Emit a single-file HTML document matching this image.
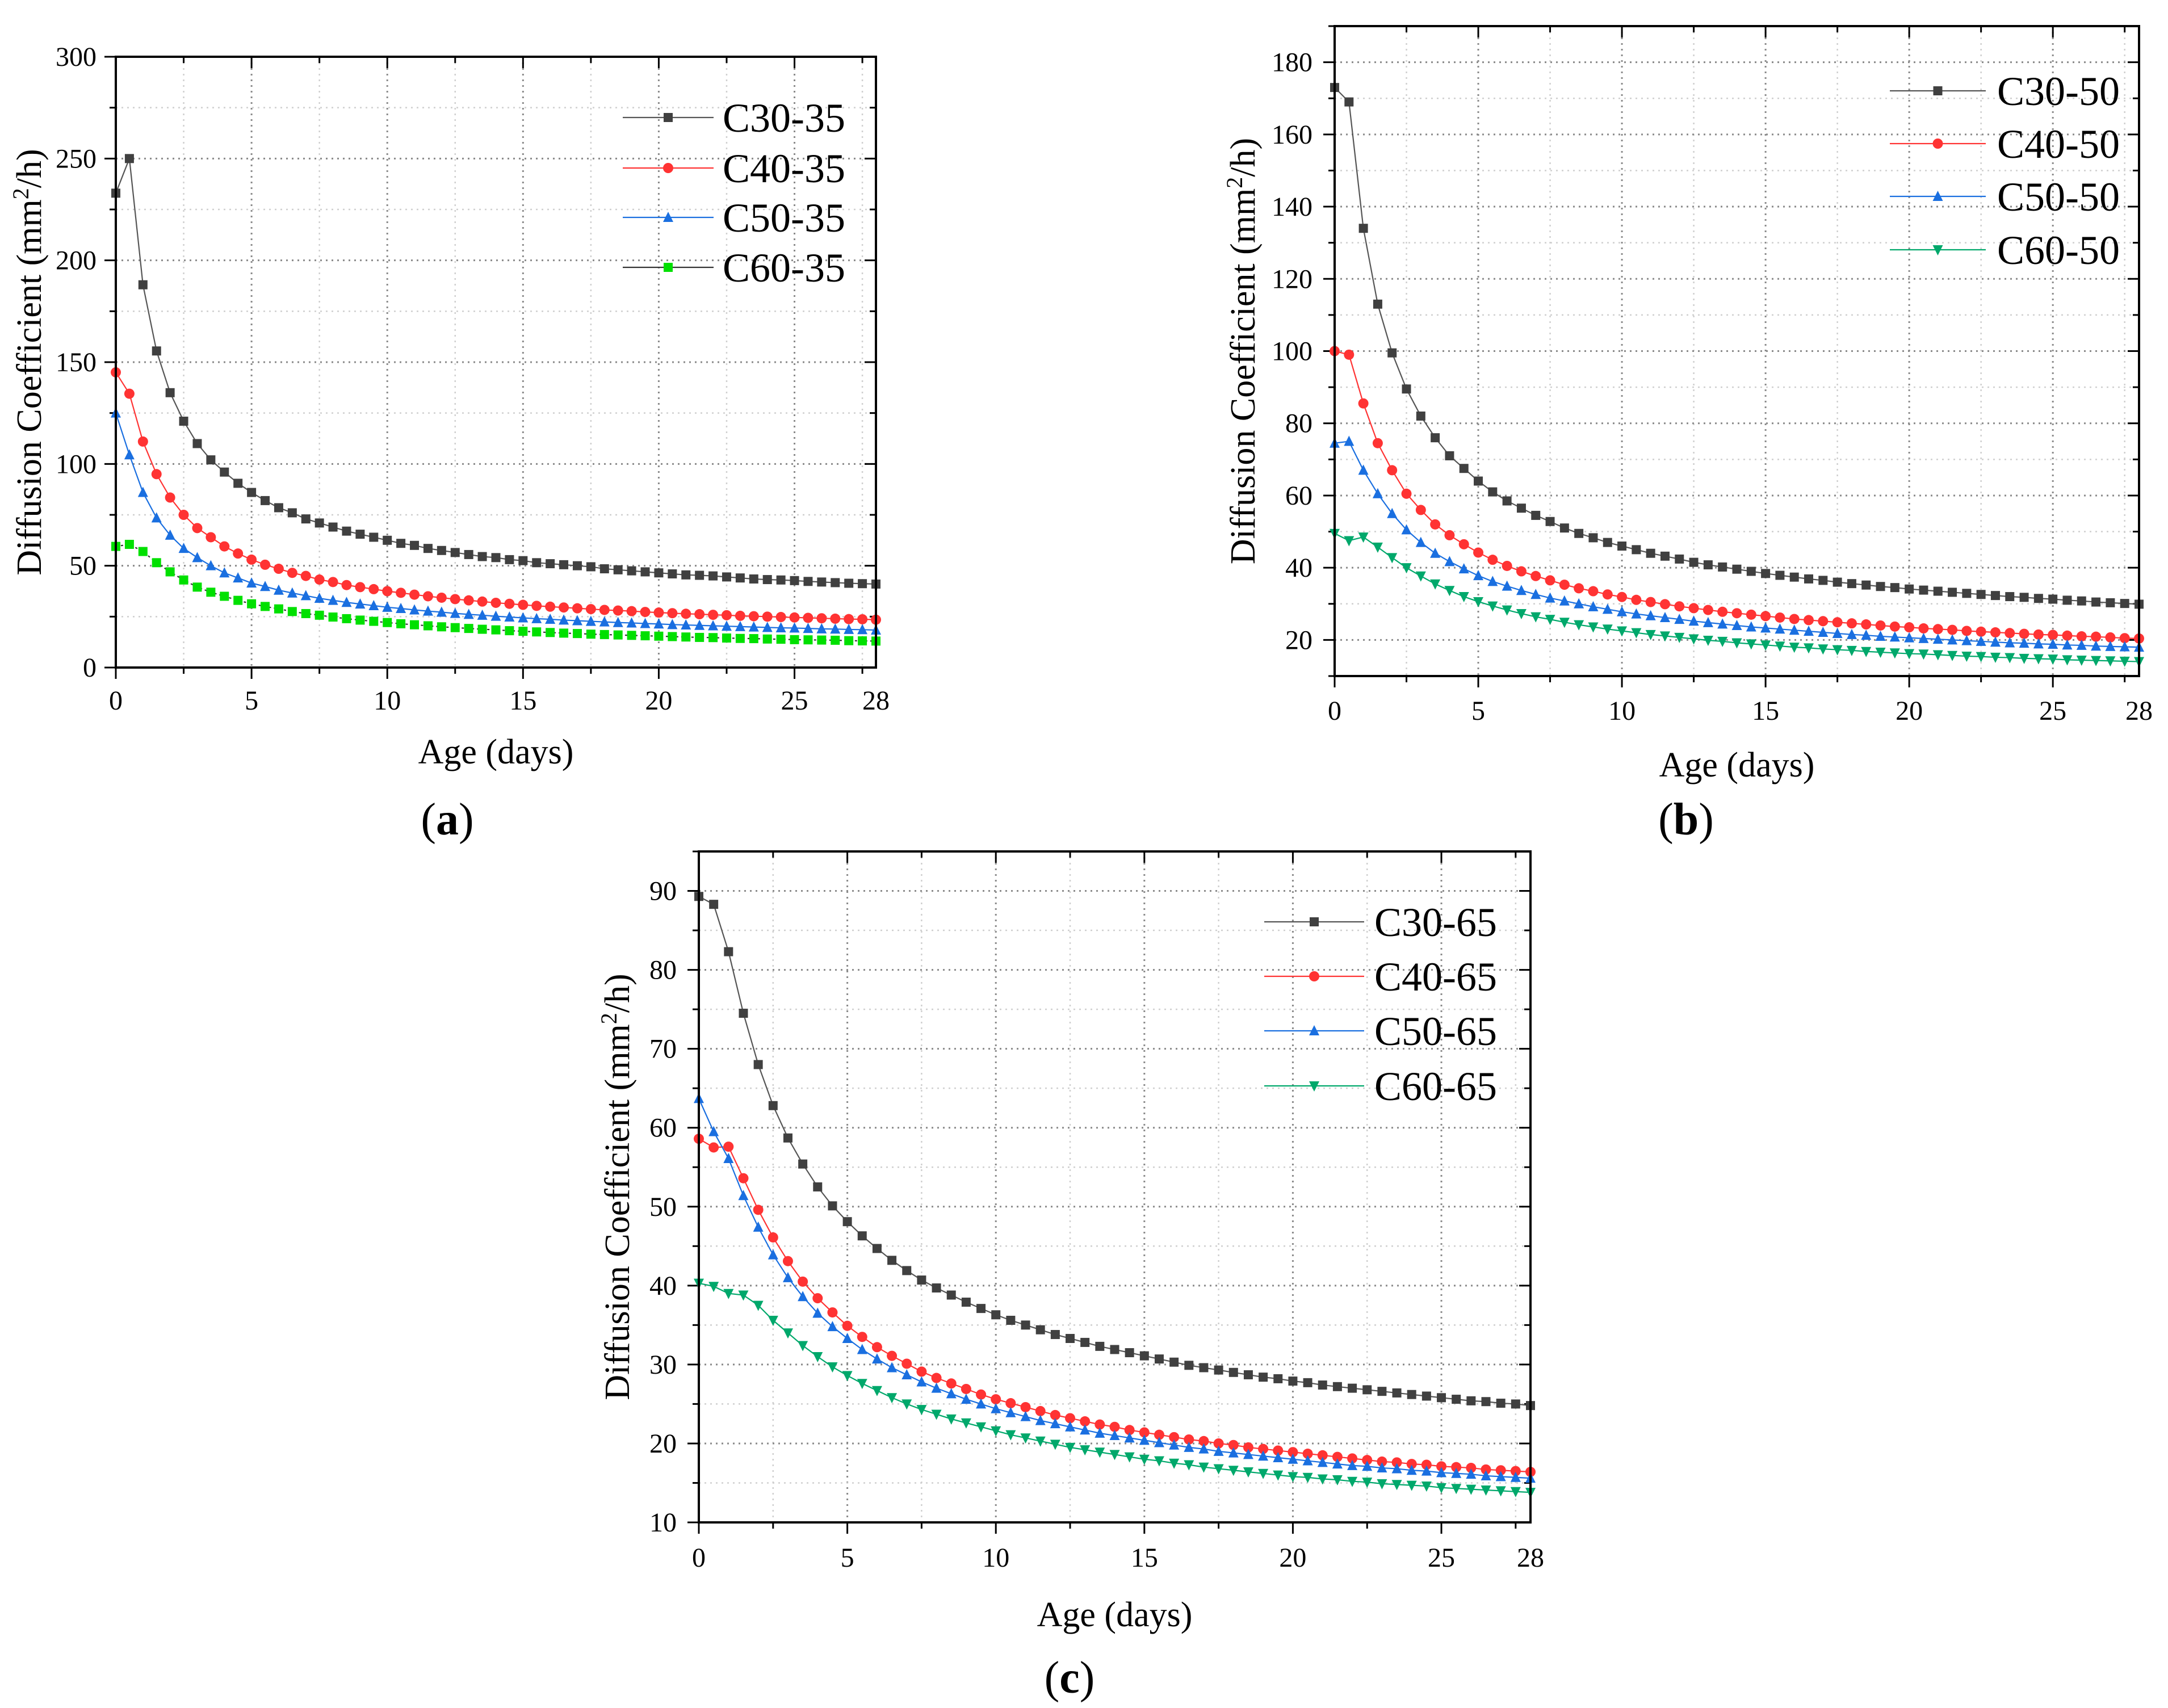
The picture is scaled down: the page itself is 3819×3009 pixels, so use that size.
<!DOCTYPE html>
<html><head><meta charset="utf-8"><style>
html,body{margin:0;padding:0;background:#fff;}
svg{display:block;font-family:"Liberation Serif",serif;}
</style></head><body>
<svg id="fig" width="3819" height="3009" viewBox="0 0 3819 3009" xmlns="http://www.w3.org/2000/svg"></svg>
<script>
const days=[];for(let i=0;i<=56;i++)days.push(i*0.5);
const seriesNamesA=["C30-35","C40-35","C50-35","C60-35"];
const a30=[233,250,188,155.5,135,121,110,102,96,90.5,86,82,78.5,76,73,71,69,67,65.5,64,62.5,61,60,58.5,57.5,56.5,55.5,54.5,54,53,52.5,51.5,51,50.5,50,49.5,48.5,48,47.5,47,46.5,46,45.5,45.3,45,44.5,44,43.5,43.2,43,42.7,42.3,42,41.7,41.4,41.2,41];
const a40=[145,134.5,111,95,83.5,75,68.5,64,59.5,56,53,50.5,48.5,46.5,45,43.2,42,40.5,39.5,38.5,37.5,36.7,35.8,35,34.3,33.6,33,32.4,31.8,31.3,30.8,30.3,29.9,29.5,29.1,28.7,28.3,28,27.7,27.3,27,26.7,26.4,26.2,25.9,25.7,25.4,25.2,25,24.8,24.6,24.4,24.2,24,23.8,23.7,23.5];
const a50=[125,104.5,86,73.5,65,58.5,54,50,46.5,44,41.5,39.8,38,36.6,35.3,34,33,32,31.2,30.4,29.6,29,28.3,27.7,27.2,26.6,26.1,25.7,25.2,24.8,24.4,24,23.7,23.3,23,22.7,22.4,22.1,21.9,21.6,21.4,21.1,20.9,20.7,20.5,20.3,20.1,19.9,19.7,19.5,19.4,19.2,19,18.9,18.7,18.6,18.4];
const a60=[59.5,60.5,57,51.5,47,43,39.5,37,35,33,31.3,30,28.8,27.5,26.5,25.7,24.8,24,23.3,22.7,22.1,21.5,21,20.5,20,19.6,19.2,18.8,18.5,18.1,17.8,17.5,17.2,16.9,16.7,16.4,16.2,16,15.8,15.6,15.4,15.2,15,14.8,14.7,14.5,14.3,14.2,14,13.9,13.7,13.6,13.5,13.4,13.2,13.1,13];
const seriesNamesB=["C30-50","C40-50","C50-50","C60-50"];
const b30=[173,169,134,113,99.5,89.5,82,76,71,67.5,64,61,58.5,56.5,54.5,52.8,51,49.5,48.3,47,46,45,44,43.2,42.4,41.5,40.8,40.2,39.6,39,38.4,37.9,37.4,36.9,36.5,36,35.6,35.2,34.8,34.5,34.1,33.8,33.5,33.2,32.9,32.6,32.3,32,31.8,31.5,31.3,31,30.8,30.5,30.3,30.1,29.9];
const b40=[100,99,85.5,74.5,67,60.5,56,52,49,46.5,44.2,42.2,40.5,39,37.7,36.5,35.3,34.3,33.5,32.6,31.9,31.1,30.5,29.9,29.3,28.8,28.3,27.8,27.4,27,26.6,26.2,25.8,25.5,25.2,24.9,24.6,24.3,24,23.7,23.5,23.2,23,22.8,22.5,22.3,22.1,21.9,21.7,21.5,21.4,21.2,21,20.9,20.7,20.5,20.4];
const b50=[74.5,75,67,60.5,55,50.5,47,44,41.7,39.7,37.8,36.2,34.9,33.7,32.6,31.6,30.8,30,29.2,28.5,27.8,27.2,26.7,26.2,25.7,25.2,24.8,24.4,24,23.6,23.3,23,22.7,22.4,22.1,21.8,21.5,21.3,21,20.8,20.6,20.4,20.2,20,19.8,19.6,19.4,19.2,19.1,18.9,18.8,18.6,18.5,18.3,18.2,18.1,18];
const b60=[49.5,47.5,48.5,45.7,42.8,40,37.7,35.5,33.7,32,30.6,29.4,28.3,27.3,26.4,25.7,24.9,24.2,23.6,23,22.5,22,21.5,21.1,20.7,20.3,19.9,19.6,19.2,18.9,18.6,18.3,18,17.8,17.5,17.3,17.1,16.8,16.6,16.4,16.2,16.1,15.9,15.7,15.5,15.4,15.2,15.1,14.9,14.8,14.7,14.5,14.4,14.3,14.2,14.1,14];
const seriesNamesC=["C30-65","C40-65","C50-65","C60-65"];
const c30=[89.3,88.3,82.3,74.5,68,62.8,58.7,55.4,52.5,50.1,48.1,46.3,44.7,43.2,41.9,40.7,39.7,38.8,37.9,37.1,36.3,35.6,35,34.4,33.8,33.3,32.8,32.3,31.9,31.5,31.1,30.7,30.3,29.9,29.6,29.3,29,28.7,28.4,28.2,27.9,27.7,27.4,27.2,27,26.8,26.6,26.4,26.2,26,25.8,25.6,25.4,25.3,25.1,25,24.8];
const c40=[58.6,57.5,57.6,53.6,49.6,46.1,43.1,40.5,38.4,36.6,34.9,33.5,32.2,31.1,30.1,29.1,28.3,27.6,26.9,26.2,25.6,25.1,24.6,24.1,23.6,23.2,22.8,22.4,22.1,21.7,21.4,21.1,20.8,20.5,20.3,20,19.8,19.5,19.3,19.1,18.9,18.7,18.5,18.3,18.1,17.9,17.7,17.6,17.4,17.3,17.1,17,16.9,16.7,16.6,16.5,16.4];
const c50=[63.7,59.5,56.1,51.4,47.4,43.9,41,38.6,36.5,34.8,33.3,31.9,30.7,29.6,28.7,27.8,27,26.3,25.6,25,24.4,23.9,23.4,22.9,22.5,22.1,21.7,21.3,21,20.7,20.4,20.1,19.8,19.5,19.3,19,18.8,18.6,18.4,18.2,18,17.8,17.6,17.4,17.2,17.1,16.9,16.8,16.6,16.5,16.3,16.2,16.1,15.9,15.8,15.7,15.6];
const c60=[40.3,39.9,39,38.8,37.5,35.6,34,32.4,31,29.7,28.6,27.6,26.7,25.8,25,24.3,23.7,23.1,22.6,22.1,21.6,21.1,20.7,20.3,19.9,19.5,19.2,18.9,18.6,18.3,18,17.8,17.5,17.3,17,16.8,16.6,16.4,16.2,16,15.8,15.7,15.5,15.4,15.2,15.1,14.9,14.8,14.7,14.6,14.4,14.3,14.2,14.1,14,13.9,13.8];
const xTickLabels=[0,5,10,15,20,25,28];
const yTicksA=[0,50,100,150,200,250,300];
const yTicksB=[20,40,60,80,100,120,140,160,180];
const yTicksC=[10,20,30,40,50,60,70,80,90];

const NS="http://www.w3.org/2000/svg";
const svg=document.getElementById('fig');
function mk(tag,attrs,parent,text){const e=document.createElementNS(NS,tag);for(const k in attrs)e.setAttribute(k,attrs[k]);if(text!==undefined)e.textContent=text;(parent||svg).appendChild(e);return e;}

const DARK="#404040",RED="#ff3333",BLUE="#1a6fe0",GREEN1="#00e000",GREEN2="#00a86b";

function marker(g,type,x,y,color){
  const s=8;let e;
  if(type==='sq')e=mk('rect',{x:x-s,y:y-s,width:2*s,height:2*s,fill:color},g);
  else if(type==='ci')e=mk('circle',{cx:x,cy:y,r:s+1,fill:color},g);
  else if(type==='up')e=mk('polygon',{points:`${x},${y-s-2} ${x-s-1},${y+s} ${x+s+1},${y+s}`,fill:color},g);
  else e=mk('polygon',{points:`${x},${y+s+2} ${x-s-1},${y-s} ${x+s+1},${y-s}`,fill:color},g);
  
  
}

function panel(p){
  const g=mk('g',{});
  
  
  const X=v=>p.L+(v-0)/28*(p.R-p.L);
  const Y=v=>p.B-(v-p.ymin)/(p.ymax-p.ymin)*(p.B-p.T);
  const gg=mk('g',{},g);
  for(let v=2.5;v<28;v+=2.5){const maj=(v%5===0);
    mk('line',{x1:X(v),x2:X(v),y1:p.T,y2:p.B,stroke:maj?'#8a8a8a':'#cfcfcf','stroke-width':maj?3:2.5,'stroke-dasharray':'3,7'},gg);}
  for(let v=p.ymin;v<p.ymax;v+=p.minor){const yy=Y(v);if(yy>=p.B-1||yy<=p.T+1)continue;const maj=Math.abs(((v-p.ticks[0])/p.step)-Math.round((v-p.ticks[0])/p.step))<1e-6;
    mk('line',{x1:p.L,x2:p.R,y1:yy,y2:yy,stroke:maj?'#8a8a8a':'#cfcfcf','stroke-width':maj?3:2.5,'stroke-dasharray':'3,7'},gg);}
  const tg=mk('g',{},g);
  for(let v=0;v<=28;v+=2.5){const xx=X(v);const L=(v%5===0)?20:11;
    mk('line',{x1:xx,x2:xx,y1:p.B,y2:p.B+L,stroke:'#000','stroke-width':3},tg);
    mk('line',{x1:xx,x2:xx,y1:p.T,y2:p.T+L,stroke:'#000','stroke-width':3},tg);}
  for(let v=p.ymin;v<=p.ymax+1e-6;v+=p.minor){const yy=Y(v);const maj=p.ticks.includes(v);const L=maj?20:11;
    mk('line',{x1:p.L-L,x2:p.L,y1:yy,y2:yy,stroke:'#000','stroke-width':3},tg);
    mk('line',{x1:p.R-L,x2:p.R,y1:yy,y2:yy,stroke:'#000','stroke-width':3},tg);}
  xTickLabels.forEach(v=>{const t=mk('text',{x:X(v),y:p.xlabY,'font-size':48,'text-anchor':'middle'},g,String(v));
    });
  p.ticks.forEach(v=>{const t=mk('text',{x:p.ylabX,y:Y(v)+16,'font-size':48,'text-anchor':'end'},g,String(v));
    });
  p.series.forEach((s,si)=>{
    const sg=mk('g',{},g);
    
    
    const pts=s.data.map((v,i)=>X(days[i])+','+Y(v)).join(' ');
    mk('polyline',{points:pts,fill:'none',stroke:s.line,'stroke-width':2.2,'stroke-dasharray':s.dash||'none'},sg);
    s.data.forEach((v,i)=>marker(sg,s.mk,X(days[i]),Y(v),s.color));
    const ly=p.legY[si];
    const lg=mk('g',{},g);
    
    
    mk('line',{x1:p.legX1,x2:p.legX2,y1:ly,y2:ly,stroke:s.line,'stroke-width':2.2},lg);
    marker(lg,s.mk,(p.legX1+p.legX2)/2,ly,s.color);
    mk('text',{x:p.legTX,y:ly+25,'font-size':72,'font-family':'Liberation Serif, serif'},lg,s.name);
  });
  const fr=mk('rect',{x:p.L,y:p.T,width:p.R-p.L,height:p.B-p.T,fill:'none',stroke:'#000','stroke-width':4},g);
  
  const xt=mk('text',{x:(p.L+p.R)/2,y:p.xtY,'font-size':62,'text-anchor':'middle'},g,'Age (days)');
  
  const cy=(p.T+p.B)/2;
  const yt=mk('text',{x:p.ytX,y:cy,'font-size':62,'text-anchor':'middle',transform:`rotate(-90 ${p.ytX} ${cy})`},g);
  
  mk('tspan',{},yt,'Diffusion Coefficient (mm');
  mk('tspan',{'baseline-shift':'super','font-size':40},yt,'2');
  mk('tspan',{},yt,'/h)');
  const lab=mk('text',{x:p.capX,y:p.capY,'font-size':80,'text-anchor':'middle'},g);
  
  mk('tspan',{},lab,'(');mk('tspan',{'font-weight':'bold'},lab,p.id);mk('tspan',{},lab,')');
}

panel({id:'a',L:204,R:1543,T:100,B:1176,ymin:0,ymax:300,step:50,minor:25,ticks:yTicksA,
  xlabY:1250,ylabX:170,xtY:1345,ytX:72,capX:788,capY:1470,
  legX1:1097,legX2:1257,legTX:1273,legY:[207,296,383,471],
  series:[{name:seriesNamesA[0],data:a30,mk:'sq',color:DARK,line:'#555'},
          {name:seriesNamesA[1],data:a40,mk:'ci',color:RED,line:RED},
          {name:seriesNamesA[2],data:a50,mk:'up',color:BLUE,line:BLUE},
          {name:seriesNamesA[3],data:a60,mk:'sq',color:GREEN1,line:'#333',dash:'4,5'}]});
panel({id:'b',L:2351,R:3768,T:46,B:1191,ymin:10,ymax:190,step:20,minor:10,ticks:yTicksB,
  xlabY:1268,ylabX:2312,xtY:1368,ytX:2210,capX:2970,capY:1470,
  legX1:3329,legX2:3498,legTX:3518,legY:[160,253,346,440],
  series:[{name:seriesNamesB[0],data:b30,mk:'sq',color:DARK,line:'#555'},
          {name:seriesNamesB[1],data:b40,mk:'ci',color:RED,line:RED},
          {name:seriesNamesB[2],data:b50,mk:'up',color:BLUE,line:BLUE},
          {name:seriesNamesB[3],data:b60,mk:'dn',color:GREEN2,line:GREEN2}]});
panel({id:'c',L:1231,R:2696,T:1500,B:2682,ymin:10,ymax:95,step:10,minor:5,ticks:yTicksC,
  xlabY:2760,ylabX:1192,xtY:2865,ytX:1108,capX:1884,capY:2982,
  legX1:2227,legX2:2403,legTX:2421,legY:[1624,1720,1816,1913],
  series:[{name:seriesNamesC[0],data:c30,mk:'sq',color:DARK,line:'#555'},
          {name:seriesNamesC[1],data:c40,mk:'ci',color:RED,line:RED},
          {name:seriesNamesC[2],data:c50,mk:'up',color:BLUE,line:BLUE},
          {name:seriesNamesC[3],data:c60,mk:'dn',color:GREEN2,line:GREEN2}]});
</script>
</body></html>
